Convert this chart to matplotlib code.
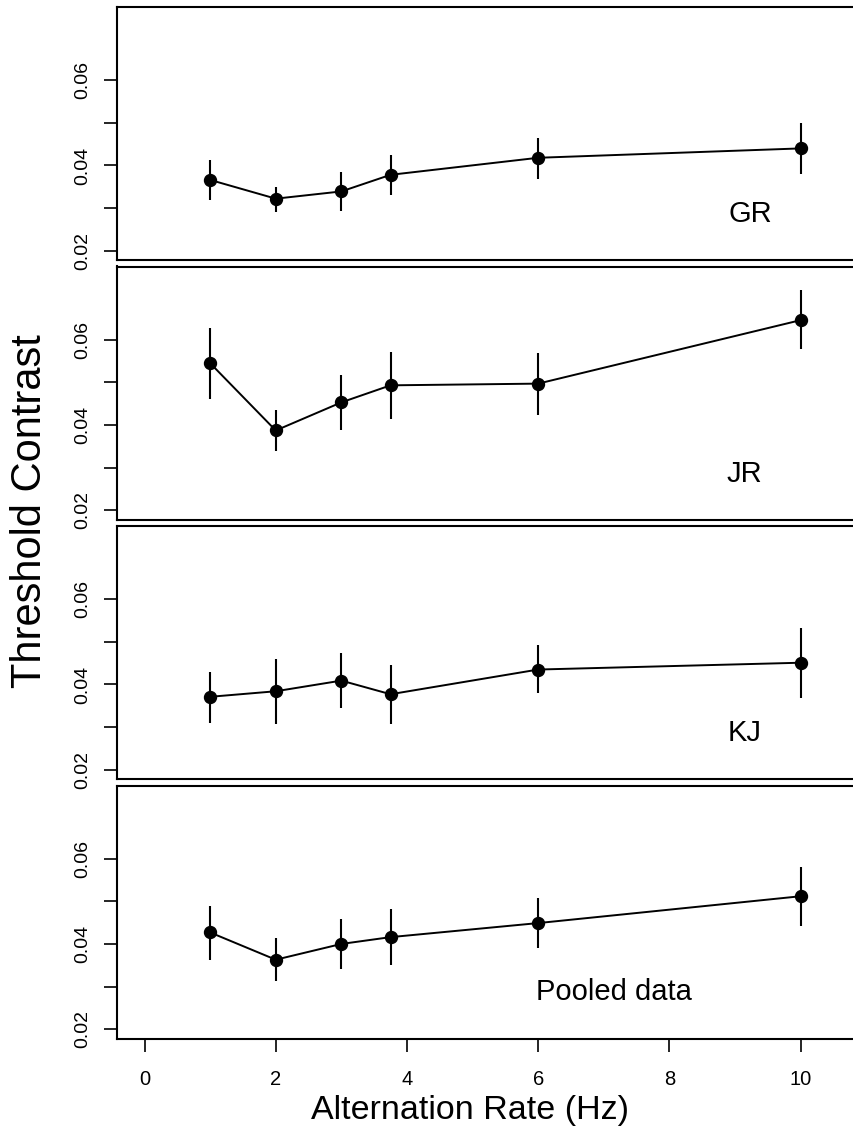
import matplotlib
matplotlib.use("Agg")
import matplotlib.pyplot as plt

plt.rcParams['font.family'] = ['Liberation Sans', 'DejaVu Sans']

# Alternation rates (Hz)
rates = [1, 2, 3, 3.75, 6, 10]

# Threshold contrast per observer, with lower / upper error limits
gr_mean = [0.0366, 0.0322, 0.0339, 0.0378, 0.0418, 0.0440]
gr_low  = [0.0320, 0.0291, 0.0292, 0.0330, 0.0369, 0.0381]
gr_high = [0.0412, 0.0349, 0.0384, 0.0424, 0.0465, 0.0500]

jr_mean = [0.0545, 0.0387, 0.0453, 0.0493, 0.0497, 0.0646]
jr_low  = [0.0460, 0.0338, 0.0388, 0.0413, 0.0423, 0.0579]
jr_high = [0.0627, 0.0435, 0.0517, 0.0572, 0.0570, 0.0716]

kj_mean = [0.0371, 0.0384, 0.0409, 0.0377, 0.0435, 0.0451]
kj_low  = [0.0310, 0.0306, 0.0344, 0.0308, 0.0379, 0.0369]
kj_high = [0.0430, 0.0459, 0.0474, 0.0445, 0.0492, 0.0533]

pool_mean = [0.0427, 0.0363, 0.0400, 0.0416, 0.0449, 0.0512]
pool_low  = [0.0363, 0.0312, 0.0341, 0.0350, 0.0390, 0.0441]
pool_high = [0.0490, 0.0414, 0.0459, 0.0481, 0.0508, 0.0581]

panel_names = ["GR", "JR", "KJ", "Pooled data"]
label_x = [9.23, 9.15, 9.15, 7.15]
label_y = 0.0286

y_ticks = [0.02, 0.03, 0.04, 0.05, 0.06]
y_tick_labels = ["0.02", "", "0.04", "", "0.06"]
x_ticks = [0, 2, 4, 6, 8, 10]

series = [
    (gr_mean, gr_low, gr_high),
    (jr_mean, jr_low, jr_high),
    (kj_mean, kj_low, kj_high),
    (pool_mean, pool_low, pool_high),
]

W, H = 854, 1139
fig = plt.figure(figsize=(W / 100, H / 100), dpi=100)

left_px = 117
xmin, xmax = -0.42, 11.2
px_per_unit = 65.6
width_px = (xmax - xmin) * px_per_unit
panel_tops = [7, 266.5, 526, 785.5]
panel_h = 253

for i, (top, (m, lo, hi)) in enumerate(zip(panel_tops, series)):
    ax = fig.add_axes([left_px / W, 1 - (top + panel_h) / H, width_px / W, panel_h / H])
    yerr = [[mm - l for mm, l in zip(m, lo)], [h - mm for mm, h in zip(m, hi)]]
    ax.errorbar(rates, m, yerr=yerr, fmt='o-', color='black', ms=8.6,
                lw=1.4, elinewidth=1.5, capsize=0)
    ax.set_xlim(xmin, xmax)
    ax.set_ylim(0.0178, 0.0772)
    ax.set_yticks(y_ticks)
    ax.set_yticklabels(y_tick_labels, rotation=90, va='center', fontsize=14)
    ax.tick_params(axis='y', length=9.5, width=1.2, pad=9)
    for s in ['left', 'top', 'bottom']:
        ax.spines[s].set_linewidth(1.5)
    ax.spines['right'].set_visible(False)
    ax.text(label_x[i], label_y, panel_names[i], ha='center', va='center', fontsize=21)
    if i == 3:
        ax.set_xticks(x_ticks)
        ax.set_xticklabels([str(t) for t in x_ticks], fontsize=14.5)
        ax.tick_params(axis='x', length=9.5, width=1.2, pad=13)
    else:
        ax.set_xticks([])

fig.text(30 / W, 1 - 511 / H, "Threshold Contrast", rotation=90,
         ha='center', va='center', fontsize=30)
fig.text(470 / W, 1 - 1110 / H, "Alternation Rate (Hz)",
         ha='center', va='center', fontsize=24.5)

fig.savefig("out.png", dpi=100)
